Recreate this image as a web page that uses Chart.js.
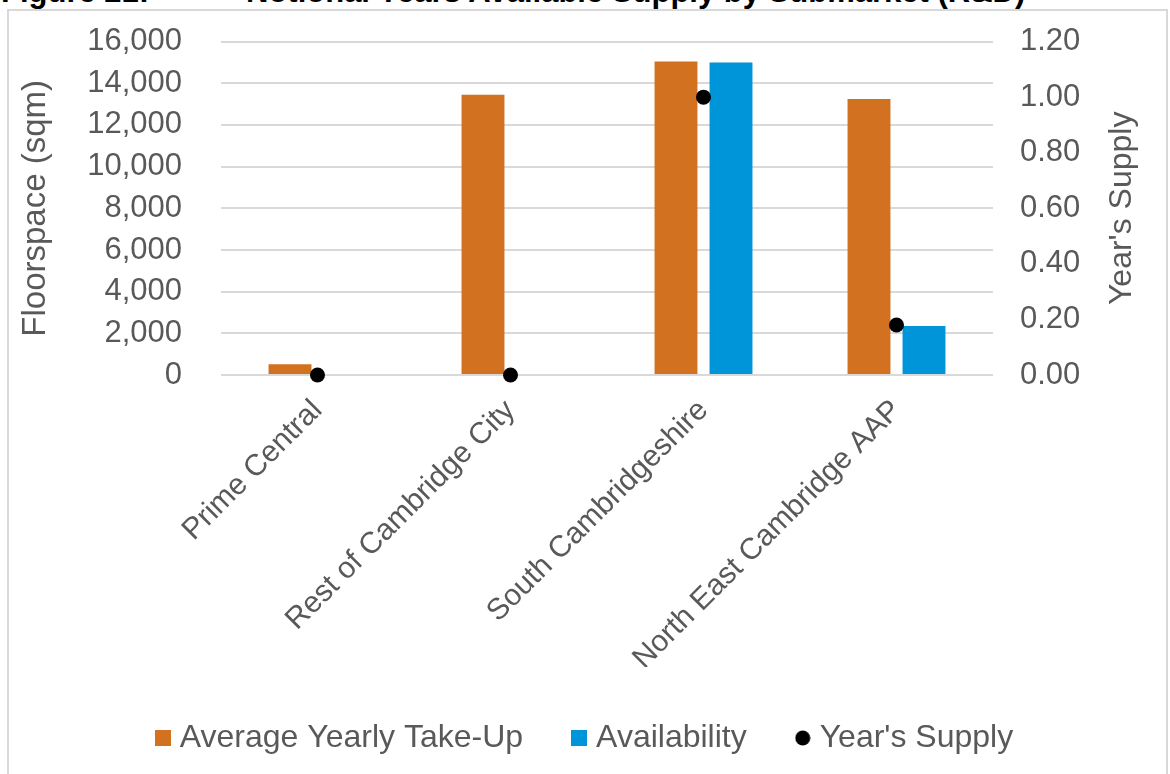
<!DOCTYPE html>
<html lang="en">
<head>
    <meta charset="UTF-8">
    <title>Notional Years Available Supply by Submarket (R&amp;D)</title>
    <script src="https://cdn.jsdelivr.net/npm/chart.js"></script>
    <style>
        body { margin: 0; background: #fff; overflow: hidden; font-family: 'Liberation Sans', Arial, sans-serif; }
        .title { position: absolute; top: -23px; font-weight: bold; font-size: 31px; line-height: 30px; color: #000; white-space: nowrap; }
        #box { position: absolute; left: 7px; top: 9px; width: 1157px; height: 790px; border: 2px solid #d9d9d9; }
        #chart { position: absolute; left: 0; top: -27px; }
    </style>
</head>
<body>
    <div class="title" style="left:1px;">Figure 21:</div>
    <div class="title" style="left:246px;">Notional Years Available Supply by Submarket (R&amp;D)</div>
    <div id="box">
        <canvas id="chart" width="1157" height="780"></canvas>
    </div>
    <script>
        // data
        const categories = ['Prime Central', 'Rest of Cambridge City', 'South Cambridgeshire', 'North East Cambridge AAP'];
        const takeUp = [520, 13450, 15050, 13250];
        const availability = [0, 0, 15000, 2350];
        const yearsSupply = [0, 0, 1.0, 0.18];
        const floorTicks = [0, 2000, 4000, 6000, 8000, 10000, 12000, 14000, 16000];
        const supplyTicks = [0, 0.2, 0.4, 0.6, 0.8, 1.0, 1.2];

        const grey = '#595959';
        const fontFamily = "'Liberation Sans', Arial, sans-serif";
        Chart.defaults.font.family = fontFamily;
        Chart.defaults.font.size = 30;
        Chart.defaults.color = grey;

        // legend markers drawn as small images so the gap to the text is tight
        function marker(color, round) {
            const c = document.createElement('canvas');
            c.width = 16; c.height = 16;
            const g = c.getContext('2d');
            g.fillStyle = color;
            if (round) {
                g.beginPath();
                g.arc(8, 8, 7.5, 0, Math.PI * 2);
                g.fill();
            } else {
                g.fillRect(0, 0, 16, 16);
            }
            return c;
        }

        // both axis titles read bottom-to-top, like the original
        const axisTitles = {
            id: 'axisTitles',
            afterDraw(chart) {
                const c = chart.ctx;
                const a = chart.chartArea;
                const mid = (a.top + a.bottom) / 2;
                c.save();
                c.fillStyle = grey;
                c.textAlign = 'center';
                c.textBaseline = 'middle';
                [[27, 33, 'Floorspace (sqm)'], [1113, 32, "Year's Supply"]].forEach(([x, size, t]) => {
                    c.save();
                    c.font = size + 'px ' + fontFamily;
                    c.translate(x, mid);
                    c.rotate(-Math.PI / 2);
                    c.fillText(t, 0, 0);
                    c.restore();
                });
                c.restore();
            }
        };

        const ctx = document.getElementById('chart').getContext('2d');
        new Chart(ctx, {
            data: {
                labels: categories,
                datasets: [{
                    type: 'line',
                    label: "Year's Supply",
                    data: yearsSupply,
                    yAxisID: 'y1',
                    showLine: false,
                    pointRadius: 7.5,
                    pointHoverRadius: 7.5,
                    pointBackgroundColor: '#000',
                    pointBorderWidth: 0,
                    borderColor: '#000',
                    backgroundColor: '#000',
                    clip: false,
                    order: 0
                }, {
                    type: 'bar',
                    label: 'Average Yearly Take-Up',
                    data: takeUp,
                    yAxisID: 'y',
                    backgroundColor: '#D2711F',
                    categoryPercentage: 0.57,
                    barPercentage: 0.78,
                    order: 1
                }, {
                    type: 'bar',
                    label: 'Availability',
                    data: availability,
                    yAxisID: 'y',
                    backgroundColor: '#0095D9',
                    categoryPercentage: 0.57,
                    barPercentage: 0.78,
                    order: 2
                }]
            },
            options: {
                responsive: false,
                animation: false,
                plugins: {
                    tooltip: { enabled: false },
                    legend: {
                        position: 'bottom',
                        labels: {
                            usePointStyle: true,
                            pointStyleWidth: 2,
                            boxHeight: 16,
                            padding: 55,
                            color: grey,
                            font: { size: 32 },
                            generateLabels: function (chart) {
                                return [1, 2, 0].map(i => {
                                    const ds = chart.data.datasets[i];
                                    return {
                                        text: ds.label,
                                        fillStyle: ds.backgroundColor,
                                        strokeStyle: ds.backgroundColor,
                                        lineWidth: 0,
                                        pointStyle: marker(ds.backgroundColor, ds.type === 'line'),
                                        datasetIndex: i,
                                        fontColor: grey
                                    };
                                });
                            }
                        }
                    }
                },
                scales: {
                    x: {
                        grid: { display: false },
                        border: { display: false },
                        ticks: { minRotation: 45, maxRotation: 45, padding: 10, color: grey, font: { size: 30 } },
                        afterFit: s => { s.height = 292; }
                    },
                    y: {
                        position: 'left',
                        min: 0,
                        max: 16000,
                        afterBuildTicks: s => { s.ticks = floorTicks.map(v => ({ value: v })); },
                        ticks: {
                            padding: 39,
                            color: grey,
                            font: { size: 31 },
                            callback: v => v.toLocaleString('en-GB')
                        },
                        grid: { color: '#d9d9d9', lineWidth: 2, drawTicks: false },
                        border: { display: false },
                        afterFit: s => { s.width = 212; }
                    },
                    y1: {
                        position: 'right',
                        min: 0,
                        max: 1.2,
                        afterBuildTicks: s => { s.ticks = supplyTicks.map(v => ({ value: v })); },
                        ticks: {
                            padding: 27,
                            color: grey,
                            font: { size: 31 },
                            callback: v => Number(v).toFixed(2)
                        },
                        grid: { drawOnChartArea: false, drawTicks: false },
                        border: { display: false },
                        afterFit: s => { s.width = 173; }
                    }
                }
            },
            plugins: [axisTitles]
        });
    </script>
</body>
</html>
